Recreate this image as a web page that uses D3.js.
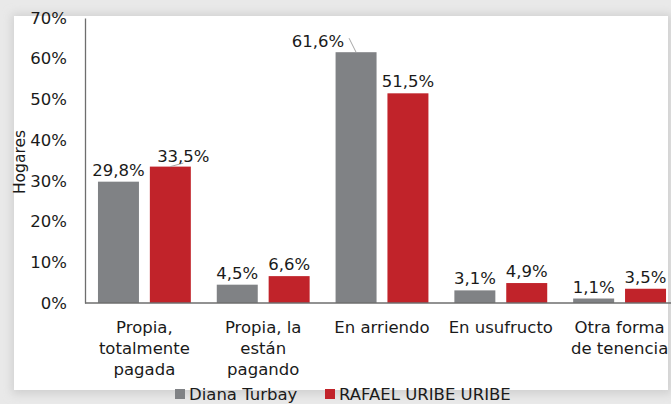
<!DOCTYPE html>
<html>
<head>
<meta charset="utf-8">
<script src="https://cdn.jsdelivr.net/npm/d3@7"></script>
<style>
  body { margin: 0; background: #e9e9e9; }
  svg { display: block; font-family: "DejaVu Sans", sans-serif; }
</style>
</head>
<body>
<svg id="chart" width="671" height="404"></svg>
<script>
const categories = [
  ["Propia,", "totalmente", "pagada"],
  ["Propia, la", "están", "pagando"],
  ["En arriendo"],
  ["En usufructo"],
  ["Otra forma", "de tenencia"]
];
const seriesNames = ["Diana Turbay", "RAFAEL URIBE URIBE"];
const dianaTurbay = [29.8, 4.5, 61.6, 3.1, 1.1];
const rafaelUribe = [33.5, 6.6, 51.5, 4.9, 3.5];
const yTicks = [0, 10, 20, 30, 40, 50, 60, 70];

const colors = ["#808285", "#c1232a"];
const width = 671, height = 404;
const margin = {left: 85, top: 18, right: -8, bottom: 101};
const fontSize = "16.5px";

const svg = d3.select("#chart");

// background panel with soft shadow
const defs = svg.append("defs");
const blur = defs.append("filter").attr("id", "shadow")
    .attr("x", "-10%").attr("y", "-10%").attr("width", "120%").attr("height", "120%");
blur.append("feGaussianBlur").attr("stdDeviation", 5);
svg.append("rect").attr("x", 12).attr("y", 14).attr("width", 660).attr("height", 380)
    .attr("fill", "#cfcfcf").attr("filter", "url(#shadow)");
svg.append("rect").attr("x", 14).attr("y", 16).attr("width", 654).attr("height", 374)
    .attr("fill", "#ffffff");

const x0 = d3.scaleBand()
    .domain(d3.range(categories.length))
    .range([margin.left, width - margin.right])
    .paddingInner(0).paddingOuter(0);

const x1 = d3.scaleBand()
    .domain([0, 1])
    .range([0, x0.bandwidth()])
    .paddingInner(0.21)
    .paddingOuter(0.25);

const y = d3.scaleLinear()
    .domain([0, 70])
    .range([height - margin.bottom, margin.top]);

const series = [dianaTurbay, rafaelUribe];

// bars
series.forEach((vals, s) => {
    svg.append("g").selectAll("rect")
        .data(vals)
        .join("rect")
        .attr("x", (d, i) => x0(i) + x1(s))
        .attr("y", d => y(d))
        .attr("width", x1.bandwidth())
        .attr("height", d => y(0) - y(d))
        .attr("fill", colors[s]);
});

// value labels (two were dragged aside in the original, with a leader line)
const labelNudge = {"0-2": [-38, 1], "1-0": [13, 1.5]};
series.forEach((vals, s) => {
    vals.forEach((d, i) => {
        const cx = x0(i) + x1(s) + x1.bandwidth() / 2;
        const top = y(d);
        const key = s + "-" + i;
        const nudge = labelNudge[key] || [0, 0];
        const tx = cx + nudge[0], ty = top - 6 + nudge[1];
        if (labelNudge[key]) {
            const ex = nudge[0] < 0 ? tx + 31 : tx;
            const ey = nudge[0] < 0 ? ty - 9 : ty + 1;
            svg.append("line")
                .attr("x1", cx).attr("y1", top)
                .attr("x2", ex).attr("y2", ey)
                .attr("stroke", "#a6a6a6").attr("stroke-width", 1);
        }
        svg.append("text")
            .attr("x", tx).attr("y", ty)
            .attr("text-anchor", "middle")
            .style("font-size", fontSize)
            .attr("fill", "#1a1a1a")
            .text(d3.format(".1f")(d).replace(".", ",") + "%");
    });
});

// y axis
const axisY = d3.axisLeft(y).tickValues(yTicks).tickSize(0).tickPadding(18)
    .tickFormat(d => d + "%");
const gy = svg.append("g")
    .attr("transform", `translate(${margin.left},0)`)
    .call(axisY);
gy.select(".domain").attr("stroke", "#6e6e6e").attr("stroke-width", 1.3);
gy.selectAll("text").style("font-size", fontSize).attr("fill", "#1a1a1a")
    .style("font-family", "DejaVu Sans, sans-serif");

// x axis baseline
svg.append("line")
    .attr("x1", margin.left).attr("x2", width)
    .attr("y1", y(0)).attr("y2", y(0))
    .attr("stroke", "#6e6e6e").attr("stroke-width", 1.3);

// category labels
categories.forEach((lines, i) => {
    const t = svg.append("text")
        .attr("x", x0(i) + x0.bandwidth() / 2)
        .attr("y", y(0) + 30)
        .attr("text-anchor", "middle")
        .style("font-size", fontSize)
        .attr("fill", "#1a1a1a");
    lines.forEach((ln, k) => {
        t.append("tspan")
            .attr("x", x0(i) + x0.bandwidth() / 2)
            .attr("dy", k === 0 ? 0 : 21)
            .text(ln);
    });
});

// y title
svg.append("text")
    .attr("transform", `translate(25, 162) rotate(-90)`)
    .attr("text-anchor", "middle")
    .style("font-size", "15.5px")
    .attr("fill", "#1a1a1a")
    .text("Hogares");

// legend
const legendX = [175, 325];
seriesNames.forEach((name, s) => {
    svg.append("rect")
        .attr("x", legendX[s]).attr("y", 389)
        .attr("width", 10).attr("height", 10)
        .attr("fill", colors[s]);
    svg.append("text")
        .attr("x", legendX[s] + 14).attr("y", 400)
        .style("font-size", fontSize)
        .attr("fill", "#1a1a1a")
        .text(name);
});
</script>
</body>
</html>
